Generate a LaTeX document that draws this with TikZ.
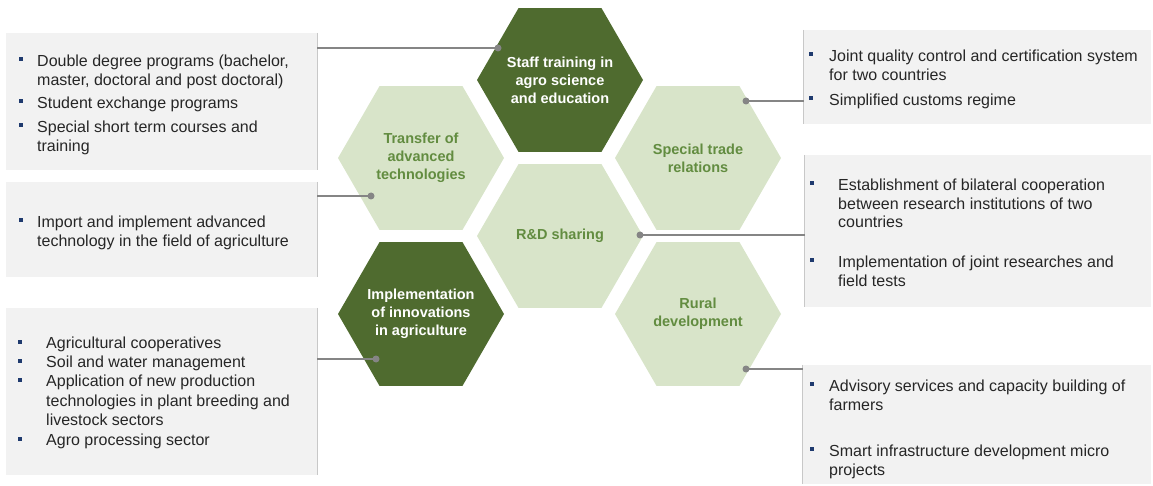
\documentclass[tikz,border=0pt]{standalone}
\usepackage{fontspec}
\setmainfont{Liberation Sans}
\usepackage{xcolor}
\usepackage{tikz}
\usetikzlibrary{shapes,positioning,calc}

\definecolor{darkolive}{HTML}{4F6B2F}
\definecolor{paleolive}{HTML}{D8E4C9}
\definecolor{olivetext}{HTML}{628C40}
\definecolor{panelgray}{HTML}{F2F2F2}
\definecolor{rimgray}{HTML}{C8C8C8}
\definecolor{linkgray}{HTML}{858585}
\definecolor{bulletnavy}{HTML}{1F3A6E}
\definecolor{bodytext}{HTML}{262626}

\begin{document}
\begin{tikzpicture}[x=1pt, y=-1pt,
    hex/.style={regular polygon, regular polygon sides=6, minimum size=166pt, inner sep=-20pt, align=center, font=\bfseries\fontsize{14.5}{18}\selectfont},
    hexdark/.style={hex, fill=darkolive, text=white},
    hexlight/.style={hex, fill=paleolive, text=olivetext},
    panel/.style={fill=panelgray, inner sep=0pt},
    rim/.style={draw=rimgray, line width=1pt},
    link/.style={draw=linkgray, line width=1.3pt},
    joint/.style={circle, fill=linkgray, inner sep=0pt, minimum size=7pt},
    bullet/.style={fill=bulletnavy, inner sep=0pt, minimum size=4pt},
    item/.style={anchor=north west, inner sep=0pt, align=left, text=bodytext, font=\fontsize{16}{18.5}\selectfont},
    tallitem/.style={item, font=\fontsize{16}{19.3}\selectfont},
]
\useasboundingbox (0,0) rectangle (1153,486);

% Hexagons
\node[hexdark] (staff) at (560,80) {Staff training in\\agro science\\and education};
\node[hexlight] (transfer) at (421,158) {Transfer of\\advanced\\technologies};
\node[hexlight] (trade) at (698,158) {Special trade\\relations};
\node[hexlight] (rnd) at (560,236) {R\&D sharing};
\node[hexdark] (innov) at (421,314) {Implementation\\of innovations\\in agriculture};
\node[hexlight] (rural) at (698,314) {Rural\\development};

% Left panels
\node[panel, minimum width=311pt, minimum height=137pt] (lb1) at (161.5,101.5) {};
\node[panel, minimum width=311pt, minimum height=95pt] (lb2) at (161.5,229.5) {};
\node[panel, minimum width=311pt, minimum height=167pt] (lb3) at (161.5,391.5) {};
\draw[rim] (lb1.north east) -- (lb1.south east);
\draw[rim] (lb2.north east) -- (lb2.south east);
\draw[rim] (lb3.north east) -- (lb3.south east);

% Right panels
\node[panel, minimum width=347pt, minimum height=94pt] (rb1) at (977.5,77) {};
\node[panel, minimum width=346pt, minimum height=152pt] (rb2) at (978,231) {};
\node[panel, minimum width=348pt, minimum height=119pt] (rb3) at (977,424.5) {};
\draw[rim] (rb1.north west) -- (rb1.south west);
\draw[rim] (rb2.north west) -- (rb2.south west);
\draw[rim] (rb3.north west) -- (rb3.south west);

% Left panel 1: staff training
\node[bullet] (lb1p) at (21,59) {};
\node[item] (lb1a) at (37,55) {Double degree programs (bachelor,\\master, doctoral and post doctoral)};
\node[bullet] (lb1q) at (21,101) {};
\node[item] (lb1b) at (37,97) {Student exchange programs};
\node[bullet] (lb1r) at (21,125) {};
\node[item] (lb1c) at (37,121) {Special short term courses and\\training};

% Left panel 2: transfer
\node[bullet] (lb2p) at (21,220) {};
\node[item] (lb2a) at (37,216) {Import and implement advanced\\technology in the field of agriculture};

% Left panel 3: innovations
\node[bullet] (lb3p) at (20,342) {};
\node[tallitem] (lb3a) at (46,337) {Agricultural cooperatives};
\node[bullet] (lb3q) at (20,361) {};
\node[tallitem] (lb3b) at (46,356) {Soil and water management};
\node[bullet] (lb3r) at (20,380) {};
\node[tallitem] (lb3c) at (46,375) {Application of new production\\technologies in plant breeding and\\livestock sectors};
\node[bullet] (lb3s) at (20,439) {};
\node[tallitem] (lb3d) at (46,434) {Agro processing sector};

% Right panel 1: trade
\node[bullet] (rb1p) at (811,54) {};
\node[item] (rb1a) at (829,50) {Joint quality control and certification system\\for two countries};
\node[bullet] (rb1q) at (811,98) {};
\node[item] (rb1b) at (829,94) {Simplified customs regime};

% Right panel 2: research
\node[bullet] (rb2p) at (812,183) {};
\node[item] (rb2a) at (838,179) {Establishment of bilateral cooperation\\between research institutions of two\\countries};
\node[bullet] (rb2q) at (812,260) {};
\node[item] (rb2b) at (838,256) {Implementation of joint researches and\\field tests};

% Right panel 3: rural
\node[bullet] (rb3p) at (812,384) {};
\node[item] (rb3a) at (829,380) {Advisory services and capacity building of\\farmers};
\node[bullet] (rb3q) at (812,449) {};
\node[item] (rb3b) at (829,445) {Smart infrastructure development micro\\projects};

% Connectors
\node[joint] (j1) at (498,48) {};
\node[joint] (j2) at (371,196) {};
\node[joint] (j3) at (376,359) {};
\node[joint] (j4) at (746,101) {};
\node[joint] (j5) at (640,235) {};
\node[joint] (j6) at (746,369) {};
\draw[link] (j1.center) -- (j1 -| lb1.east);
\draw[link] (j2.center) -- (j2 -| lb2.east);
\draw[link] (j3.center) -- (j3 -| lb3.east);
\draw[link] (j4.center) -- (j4 -| rb1.west);
\draw[link] (j5.center) -- (j5 -| rb2.west);
\draw[link] (j6.center) -- (j6 -| rb3.west);

\end{tikzpicture}
\end{document}
